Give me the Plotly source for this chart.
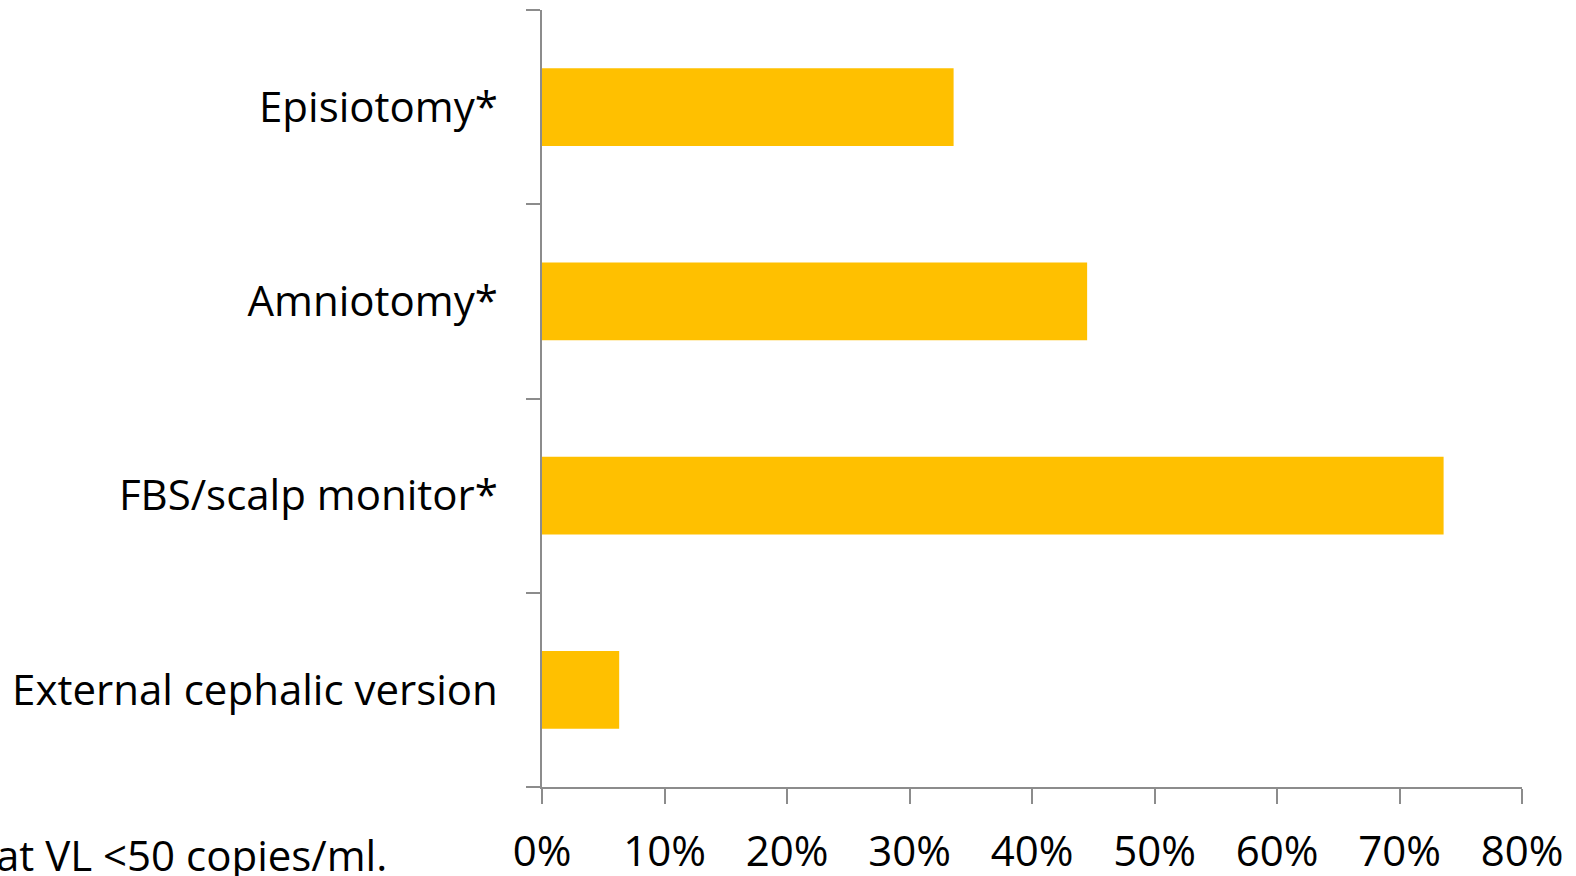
import plotly.graph_objects as go

# Procedures during delivery, share of women (%)
categories = ["External cephalic version", "FBS/scalp monitor*", "Amniotomy*", "Episiotomy*"]
values = [0.063, 0.736, 0.445, 0.336]
x_tick_vals = [0, 0.1, 0.2, 0.3, 0.4, 0.5, 0.6, 0.7, 0.8]
x_tick_text = ["0%", "10%", "20%", "30%", "40%", "50%", "60%", "70%", "80%"]
footnote = "at VL <50 copies/ml."

FONT = "Open Sans"
FONT_SIZE = 42
AXIS_GREY = "#8c8c8c"

fig = go.Figure(
    go.Bar(
        x=values,
        y=categories,
        orientation="h",
        marker=dict(color="#FFC000", line=dict(width=0)),
        width=0.4,
        hoverinfo="skip",
    )
)

fig.update_layout(
    width=1576,
    height=876,
    margin=dict(l=542, r=54, t=10, b=89),
    paper_bgcolor="white",
    plot_bgcolor="white",
    showlegend=False,
    font=dict(family=FONT, size=FONT_SIZE, color="black"),
)

fig.update_xaxes(
    range=[0, 0.8],
    tickvals=x_tick_vals,
    ticktext=x_tick_text,
    ticks="outside",
    ticklen=15,
    tickwidth=1.5,
    tickcolor=AXIS_GREY,
    showline=True,
    linecolor=AXIS_GREY,
    linewidth=1.5,
    showgrid=False,
    zeroline=False,
    automargin=False,
    ticklabelstandoff=12,
    tickfont=dict(family=FONT, size=FONT_SIZE, color="black"),
)

fig.update_yaxes(
    type="category",
    categoryorder="array",
    categoryarray=categories,
    tickson="boundaries",
    ticks="outside",
    ticklen=14,
    tickwidth=1.5,
    tickcolor=AXIS_GREY,
    showline=True,
    linecolor=AXIS_GREY,
    linewidth=1.5,
    showgrid=False,
    zeroline=False,
    automargin=False,
    ticklabelstandoff=34,
    tickfont=dict(family=FONT, size=FONT_SIZE, color="black"),
)

fig.add_annotation(
    text=footnote,
    xref="paper",
    yref="paper",
    x=-152 / 974,
    y=-68 / 777,
    xanchor="right",
    yanchor="middle",
    showarrow=False,
    font=dict(family=FONT, size=FONT_SIZE, color="black"),
)

fig.write_html("out.html")
